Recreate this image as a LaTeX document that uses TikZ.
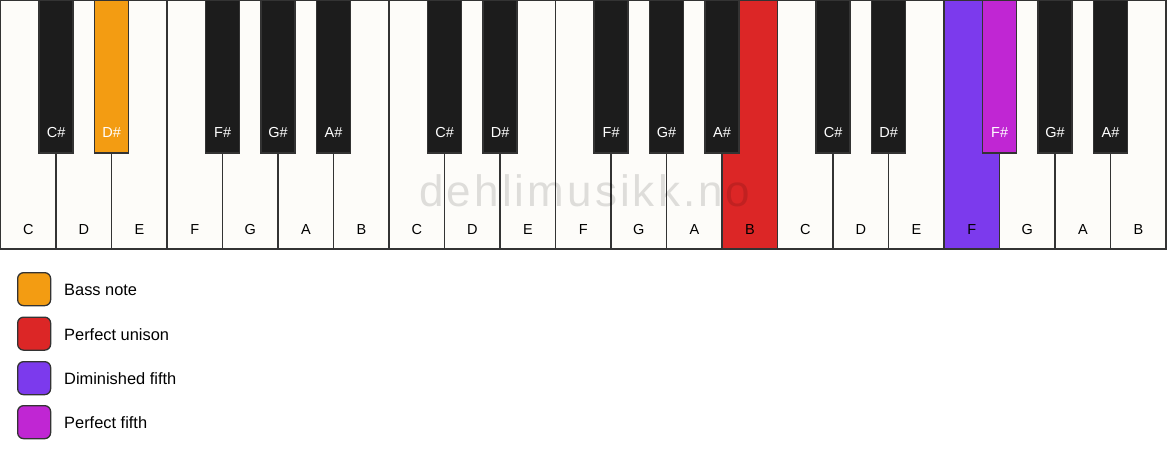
\documentclass[tikz,border=0pt]{standalone}
\usepackage{fontspec}
\setmainfont{Liberation Sans}
\newfontfamily\wmfont[LetterSpace=7]{Liberation Sans}
\definecolor{keywhite}{HTML}{FDFCF9}
\definecolor{keyblack}{HTML}{1C1C1C}
\definecolor{keyline}{HTML}{333333}
\definecolor{cbass}{HTML}{F39C12}
\definecolor{cunison}{HTML}{DC2626}
\definecolor{cdim}{HTML}{7C3AED}
\definecolor{cfifth}{HTML}{C026D3}
\tikzset{
  whitekey/.style={draw=keyline, line width=1.3pt, fill=keywhite, minimum width=55.5pt, minimum height=249pt, anchor=north west, inner sep=0pt, outer sep=0pt},
  blackkey/.style={draw=keyline, line width=1.3pt, fill=keyblack, minimum width=34pt, minimum height=153pt, anchor=north, inner sep=0pt, outer sep=0pt},
  wlabel/.style={font=\fontsize{14.5}{16}\selectfont, text=black, anchor=center},
  blabel/.style={font=\fontsize{14.5}{16}\selectfont, text=white, anchor=center},
  legbox/.style={draw=keyline, line width=1.3pt, rounded corners=6pt, minimum width=33pt, minimum height=33pt, inner sep=0pt, anchor=north west},
  legtext/.style={font=\fontsize{16.4}{18}\selectfont, anchor=west, inner sep=0pt},
}
\begin{document}
\begin{tikzpicture}[x=1pt,y=-1pt]
\useasboundingbox[fill=white] (0,0) rectangle (1167,461);
% white keys
\foreach \i/\n in {0/C,1/D,2/E,3/F,4/G,5/A,6/B,7/C,8/D,9/E,10/F,11/G,12/A,13/B,14/C,15/D,16/E,17/F,18/G,19/A,20/B}{
  \pgfmathsetmacro{\xx}{0.6+\i*55.5}
  \ifnum\i=13
    \node[whitekey, fill=cunison] (w\i) at (\xx,0) {};
  \else\ifnum\i=17
    \node[whitekey, fill=cdim] (w\i) at (\xx,0) {};
  \else
    \node[whitekey] (w\i) at (\xx,0) {};
  \fi\fi
  \node[wlabel] (lw\i) at ([yshift=19.5pt]w\i.south) {\n};
}
% watermark
\node[font=\wmfont\fontsize{44}{48}\selectfont, text=black, text opacity=0.12, anchor=base, inner sep=0pt] (wm) at (585,206.5) {dehlimusikk.no};
% black keys
\foreach \b/\n in {1/C\#,2/D\#,4/F\#,5/G\#,6/A\#,8/C\#,9/D\#,11/F\#,12/G\#,13/A\#,15/C\#,16/D\#,18/F\#,19/G\#,20/A\#}{
  \pgfmathsetmacro{\xx}{0.6+\b*55.5}
  \ifnum\b=2
    \node[blackkey, fill=cbass] (b\b) at (\xx,0) {};
  \else\ifnum\b=18
    \node[blackkey, fill=cfifth] (b\b) at (\xx,0) {};
  \else
    \node[blackkey] (b\b) at (\xx,0) {};
  \fi\fi
  \node[blabel] (lb\b) at ([yshift=20pt]b\b.south) {\n};
}
% legend
\node[legbox, fill=cbass] (g1) at (17,272) {};
\node[legtext] (t1) at (64,290) {Bass note};
\node[legbox, fill=cunison] (g2) at (17,316.5) {};
\node[legtext] (t2) at (64,334.5) {Perfect unison};
\node[legbox, fill=cdim] (g3) at (17,361) {};
\node[legtext] (t3) at (64,379) {Diminished fifth};
\node[legbox, fill=cfifth] (g4) at (17,405) {};
\node[legtext] (t4) at (64,423) {Perfect fifth};
\end{tikzpicture}
\end{document}
